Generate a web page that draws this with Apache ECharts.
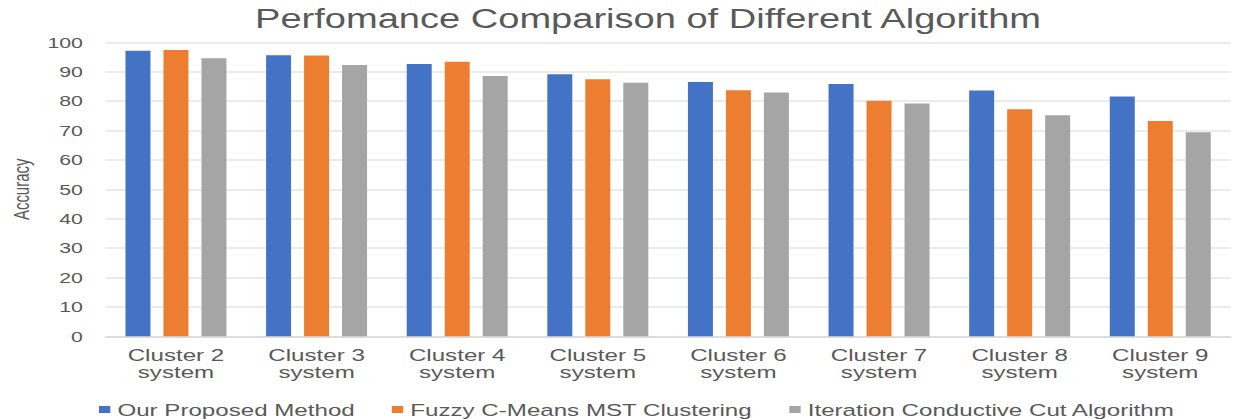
<!DOCTYPE html>
<html>
<head>
<meta charset="utf-8">
<script src="https://cdn.jsdelivr.net/npm/echarts@6/dist/echarts.min.js"></script>
<style>
  html, body { margin: 0; padding: 0; overflow: hidden; background: #ffffff; }
  #wrap { width: 1233px; height: 419px; overflow: hidden; }
  #chart { width: 868.3px; height: 419px; transform: scaleX(1.42); transform-origin: 0 0; }
</style>
</head>
<body>
<div id="wrap"><div id="chart"></div></div>
<script>
// ---- data ----
const categories = [
  'Cluster 2\nsystem', 'Cluster 3\nsystem', 'Cluster 4\nsystem', 'Cluster 5\nsystem',
  'Cluster 6\nsystem', 'Cluster 7\nsystem', 'Cluster 8\nsystem', 'Cluster 9\nsystem'
];
const seriesNames = [
  'Our Proposed Method',
  'Fuzzy C-Means MST Clustering',
  'Iteration Conductive Cut Algorithm'
];
const ourProposed   = [97.1, 95.6, 92.6, 89.1, 86.5, 85.8, 83.6, 81.6];
const fuzzyCMeans   = [97.4, 95.5, 93.4, 87.4, 83.7, 80.1, 77.2, 73.2];
const iterationCut  = [94.6, 92.3, 88.5, 86.2, 82.9, 79.2, 75.2, 69.4];
const yMin = 0, yMax = 100, yInterval = 10;
const seriesColors = ['#4472C4', '#ED7D31', '#A5A5A5'];

const FONT = '"Liberation Sans", Arial, sans-serif';
const TEXT = '#595959';

const chart = echarts.init(document.getElementById('chart'), null, { renderer: 'svg' });
const values = [ourProposed, fuzzyCMeans, iterationCut];

chart.setOption({
  animation: false,
  backgroundColor: '#ffffff',
  title: {
    text: 'Perfomance Comparison of Different Algorithm',
    left: 179.6,
    top: 5,
    padding: 0,
    textStyle: { fontFamily: FONT, fontSize: 26.8, fontWeight: 'normal', color: TEXT }
  },
  grid: {
    left: 74.4, right: 1.4, top: 42.3, bottom: 82.7,
    containLabel: false, outerBoundsMode: 'none'
  },
  legend: {
    data: seriesNames,
    left: 69.7,
    top: 401,
    padding: 0,
    icon: 'rect',
    itemWidth: 8,
    itemHeight: 7,
    itemGap: 26,
    textStyle: { fontFamily: FONT, fontSize: 17, color: TEXT }
  },
  xAxis: {
    type: 'category',
    data: categories,
    axisTick: { show: false },
    axisLine: { lineStyle: { color: '#d9d9d9', width: 1.5 } },
    axisLabel: { interval: 0, margin: 10, fontFamily: FONT, fontSize: 17, lineHeight: 17, color: TEXT }
  },
  yAxis: {
    type: 'value',
    min: yMin, max: yMax, interval: yInterval,
    name: 'Accuracy',
    nameLocation: 'middle',
    nameRotate: 90,
    nameGap: 52,
    nameTextStyle: { fontFamily: FONT, fontSize: 15, color: TEXT },
    axisLine: { show: false },
    axisTick: { show: false },
    axisLabel: { margin: 16, fontFamily: FONT, fontSize: 15, color: TEXT },
    splitLine: { lineStyle: { color: '#e4e4e4', width: 1.5 } }
  },
  series: seriesNames.map((name, i) => ({
    name: name,
    type: 'bar',
    data: values[i],
    barWidth: 17.6,
    barGap: '52%',
    itemStyle: { color: seriesColors[i] }
  }))
});
</script>
</body>
</html>
